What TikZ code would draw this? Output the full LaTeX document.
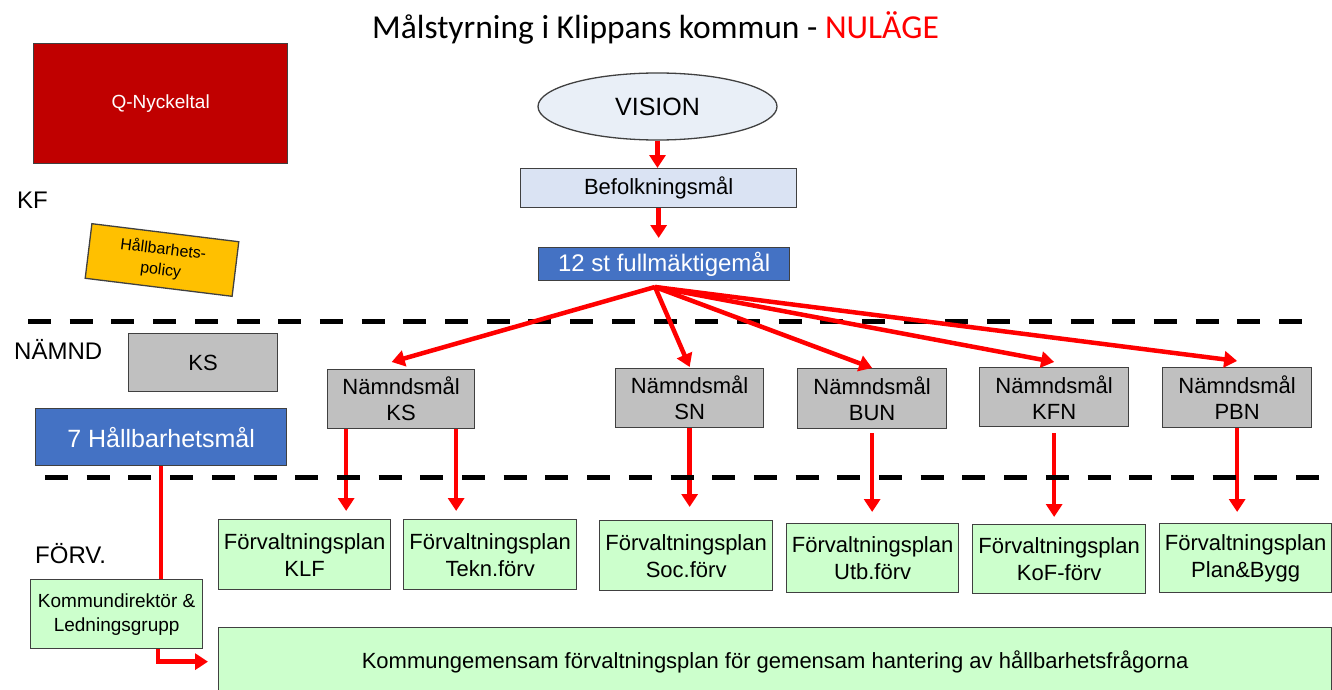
\documentclass[tikz,border=0pt]{standalone}
\usepackage{fontspec}
\setmainfont{Liberation Sans}
\newfontfamily\titlefont{Carlito}
\usetikzlibrary{arrows.meta,shapes.geometric}
\definecolor{boxline}{RGB}{64,64,64}
\definecolor{qred}{RGB}{192,0,0}
\definecolor{policyyellow}{RGB}{255,192,0}
\definecolor{visionfill}{RGB}{233,239,247}
\definecolor{befolkfill}{RGB}{218,227,243}
\definecolor{goalblue}{RGB}{68,114,196}
\definecolor{boardgray}{RGB}{192,192,192}
\definecolor{plangreen}{RGB}{204,255,204}
\definecolor{arrowred}{RGB}{255,0,0}

\begin{document}
\begin{tikzpicture}[x=1pt,y=-1pt,
    box/.style={draw=boxline, line width=1.3pt, inner sep=0pt, anchor=north west,
        align=center, font=\fontsize{22}{26}\selectfont},
    graybox/.style={box, fill=boardgray},
    greenbox/.style={box, fill=plangreen, font=\fontsize{22}{27}\selectfont},
    bluebox/.style={box, fill=goalblue, text=white},
    redarrow/.style={color=arrowred, line width=4.5pt, -{Triangle[length=13pt,width=16pt]}},
    levelline/.style={line width=5pt, dash pattern=on 23pt off 18.7pt},
    levellabel/.style={anchor=base west, inner sep=0pt, font=\fontsize{24}{28}\selectfont}]

\useasboundingbox (0,0) rectangle (1332,690);

% title
\node[anchor=base, inner sep=0pt, font=\titlefont\fontsize{33.5}{38}\selectfont] (title) at (655.5,39)
    {Målstyrning i Klippans kommun - \textcolor{arrowred}{NULÄGE}};

% KF level
\node[box, fill=qred, text=white, minimum width=254pt, minimum height=120pt,
    font=\fontsize{19}{23}\selectfont] (qn) at (33,43) {Q-Nyckeltal};
\node[levellabel] (kf) at (17,208) {KF};
\node[box, anchor=center, fill=policyyellow, rotate=-7, minimum width=148pt, minimum height=55pt,
    font=\fontsize{16}{21}\selectfont] (hp) at (162,260) {Hållbarhets-\\policy};

\node[ellipse, draw=boxline, line width=1.3pt, fill=visionfill, inner sep=0pt,
    minimum width=239pt, minimum height=67pt, font=\fontsize{25}{30}\selectfont] (vision) at (657.5,106.5) {VISION};
\node[box, fill=befolkfill, minimum width=276pt, minimum height=39pt] (bef) at (520,168) {Befolkningsmål};
\node[bluebox, minimum width=251pt, minimum height=33pt, font=\fontsize{24}{28}\selectfont] (full) at (538,247) {12 st fullmäktigemål};
\coordinate (fan) at (655,287);

% NÄMND level
\node[levellabel] (namnd) at (14,359) {NÄMND};
\node[graybox, minimum width=149pt, minimum height=58pt] (ks) at (128,333) {KS};
\node[bluebox, minimum width=251pt, minimum height=57pt, font=\fontsize{25}{30}\selectfont] (hb) at (35,408) {7 Hållbarhetsmål};

\node[graybox, minimum width=147pt, minimum height=59pt] (nks)  at (327,369)  {Nämndsmål\\KS};
\node[graybox, minimum width=148pt, minimum height=59pt] (nsn)  at (615,368)  {Nämndsmål\\SN};
\node[graybox, minimum width=149pt, minimum height=60pt] (nbun) at (797,368)  {Nämndsmål\\BUN};
\node[graybox, minimum width=149pt, minimum height=59pt] (nkfn) at (979,367)  {Nämndsmål\\KFN};
\node[graybox, minimum width=149pt, minimum height=60pt] (npbn) at (1162,367) {Nämndsmål\\PBN};

% FÖRV. level
\node[levellabel] (forv) at (35,563) {FÖRV.};
\node[greenbox, minimum width=172pt, minimum height=69pt, font=\fontsize{19}{24}\selectfont] (kd) at (30,579)
    {Kommundirektör \&\\Ledningsgrupp};

\node[greenbox, minimum width=172pt, minimum height=70pt] (fklf)  at (218,519)  {Förvaltningsplan\\KLF};
\node[greenbox, minimum width=173pt, minimum height=70pt] (ftekn) at (403,519)  {Förvaltningsplan\\Tekn.förv};
\node[greenbox, minimum width=173pt, minimum height=70pt] (fsoc)  at (599,520)  {Förvaltningsplan\\Soc.förv};
\node[greenbox, minimum width=172pt, minimum height=69pt] (futb)  at (786,523)  {Förvaltningsplan\\Utb.förv};
\node[greenbox, minimum width=173pt, minimum height=69pt] (fkof)  at (972,524)  {Förvaltningsplan\\KoF-förv};
\node[greenbox, minimum width=172pt, minimum height=69pt] (fplan) at (1159,523) {Förvaltningsplan\\Plan\&Bygg};

\node[greenbox, minimum width=1113pt, minimum height=68pt] (big) at (218,627)
    {Kommungemensam förvaltningsplan för gemensam hantering av hållbarhetsfrågorna};

% level separators
\draw[levelline] (28,321) -- (1302,321);

% goal arrows
\path[redarrow]
    (vision.south) edge (vision.south |- bef.north)
    (bef.south)    edge[shorten >=9pt] (bef.south |- full.north);

\path[redarrow]
    (fan) edge ([xshift=-9.5pt,yshift=7pt]nks.north)
          edge ([yshift=1pt]nsn.north)
          edge (nbun.north)
          edge ([yshift=5pt]nkfn.north)
          edge ([yshift=6pt]npbn.north);

\path[redarrow]
    ([xshift=-55pt]nks.south) edge[shorten >=8pt] ([xshift=-55pt]nks.south |- fklf.north)
    ([xshift=55pt]nks.south)  edge[shorten >=8pt] ([xshift=55pt]nks.south |- ftekn.north)
    (nsn.south)  edge[shorten >=13pt] (nsn.south |- fsoc.north)
    (nbun.south) edge[shorten <=4pt, shorten >=11pt] (nbun.south |- futb.north)
    (nkfn.south) edge[shorten <=6pt, shorten >=7pt] (nkfn.south |- fkof.north)
    (npbn.south) edge[shorten >=11pt] (npbn.south |- fplan.north);

\draw[arrowred, line width=4.5pt] (hb.south) -- (hb.south |- kd.north);
\draw[redarrow, shorten >=10pt] ([xshift=-3pt]hb.south |- kd.south) |- (big.west);

\draw[levelline] (45,477) -- (1324,477);

\end{tikzpicture}
\end{document}
